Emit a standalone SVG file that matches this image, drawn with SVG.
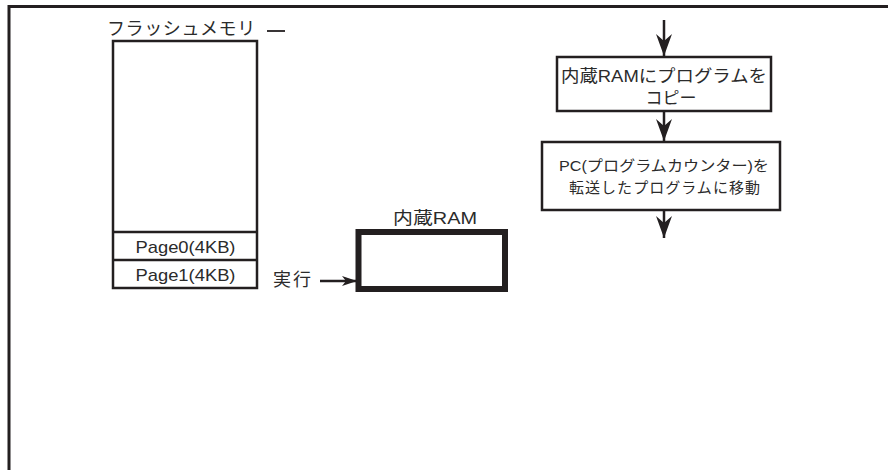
<svg xmlns="http://www.w3.org/2000/svg" width="888" height="470" viewBox="0 0 888 470">
<style>
.ln{fill:none;stroke:#231f20;stroke-width:2.5}
.t{font-family:"Liberation Sans","Noto Sans CJK JP",sans-serif;fill:#2b2b2b}
</style>
<defs>
<marker id="ah" markerUnits="userSpaceOnUse" markerWidth="24" markerHeight="20" viewBox="-22 -10 24 20" refX="0" refY="0" orient="auto">
<path d="M0,0 L-22,-8 L-15,0 L-22,8 Z" fill="#231f20"/>
</marker>
<marker id="ahs" markerUnits="userSpaceOnUse" markerWidth="18" markerHeight="12" viewBox="-16 -6 18 12" refX="0" refY="0" orient="auto">
<path d="M0,0 L-15,-5 L-11,0 L-15,5 Z" fill="#231f20"/>
</marker>
</defs>
<rect width="888" height="470" fill="#fff"/>
<g id="frame">
<path d="M9,470 V6.5 H888" fill="none" stroke="#231f20" stroke-width="3"/>
</g>
<g id="flash">
<text class="t" x="107" y="35" font-size="18" letter-spacing="0.6">フラッシュメモリ</text>
<path d="M267,31 H285" stroke="#231f20" stroke-width="1.8"/>
<rect class="ln" x="113" y="41" width="144" height="247"/>
<path class="ln" d="M113,232 H257 M113,260 H257"/>
<text class="t" x="185.5" y="253" font-size="17" text-anchor="middle" textLength="100" lengthAdjust="spacingAndGlyphs">Page0(4KB)</text>
<text class="t" x="185.5" y="281" font-size="17" text-anchor="middle" textLength="100" lengthAdjust="spacingAndGlyphs">Page1(4KB)</text>
</g>
<g id="exec">
<text class="t" x="273" y="286" font-size="18" letter-spacing="2">実行</text>
</g>
<g id="ram">
<text class="t" x="435" y="224" font-size="17" text-anchor="middle" textLength="84" lengthAdjust="spacingAndGlyphs">内蔵RAM</text>
<rect x="358.5" y="232" width="146.5" height="57" fill="none" stroke="#231f20" stroke-width="6"/>
</g>
<g id="copy">
<rect class="ln" x="557" y="57" width="214" height="54" fill="#fff"/>
<text class="t" x="664" y="82" font-size="17" text-anchor="middle" textLength="206" lengthAdjust="spacingAndGlyphs">内蔵RAMにプログラムを</text>
<text class="t" x="671" y="104" font-size="17" text-anchor="middle">コピー</text>
</g>
<g id="pcmove">
<rect class="ln" x="542" y="142" width="238" height="68" fill="#fff"/>
<text class="t" x="664" y="171" font-size="15" text-anchor="middle" textLength="210" lengthAdjust="spacingAndGlyphs">PC(プログラムカウンター)を</text>
<text class="t" x="664.5" y="193" font-size="15" text-anchor="middle" textLength="191" lengthAdjust="spacing">転送したプログラムに移動</text>
</g>
<g id="connectors">
<path class="ln" d="M320,281 H357" marker-end="url(#ahs)"/>
<path class="ln" d="M664,20 V56" marker-end="url(#ah)"/>
<path class="ln" d="M664,111 V141" marker-end="url(#ah)"/>
<path class="ln" d="M664,210 V238" marker-end="url(#ah)"/>
</g>
</svg>
